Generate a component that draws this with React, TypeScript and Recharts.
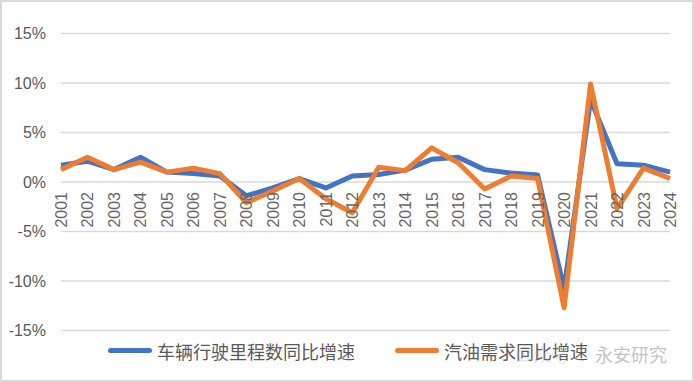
import React from "react";
import {
  LineChart,
  Line,
  YAxis,
  XAxis,
  CartesianGrid,
  Legend,
  LabelList,
} from "recharts";

const years = [
  "2001", "2002", "2003", "2004", "2005", "2006", "2007", "2008",
  "2009", "2010", "2011", "2012", "2013", "2014", "2015", "2016",
  "2017", "2018", "2019", "2020", "2021", "2022", "2023", "2024",
];
// 车辆行驶里程数同比增速 (%)
const vehicleMiles = [
  1.7, 2.1, 1.25, 2.5, 1.0, 0.85, 0.6, -1.4, -0.6, 0.35, -0.6, 0.6,
  0.75, 1.2, 2.3, 2.5, 1.25, 0.9, 0.7, -10.8, 8.3, 1.85, 1.7, 1.0,
];
// 汽油需求同比增速 (%)
const gasolineDemand = [
  1.25, 2.5, 1.25, 2.0, 1.0, 1.4, 0.85, -2.1, -0.9, 0.35, -1.7, -3.1,
  1.5, 1.15, 3.45, 1.95, -0.7, 0.6, 0.35, -12.7, 9.9, -2.7, 1.4, 0.35,
];
const yTicks = [-15, -10, -5, 0, 5, 10, 15];
const seriesNames = ["车辆行驶里程数同比增速", "汽油需求同比增速"];

const data = years.map((year, i) => ({
  year,
  miles: vehicleMiles[i],
  gasoline: gasolineDemand[i],
  base: 0,
}));

const font = '"Liberation Sans", Arial, sans-serif';
const cjkFont = '"Noto Sans CJK SC", sans-serif';

const YearLabel = (props: any) => {
  const { x, y, value } = props;
  const bx = x + 6;
  const by = y + 10;
  return (
    <text
      x={bx}
      y={by}
      transform={`rotate(-90, ${bx}, ${by})`}
      textAnchor="end"
      fill="#666"
      fontSize={16}
      fontFamily={font}
    >
      {value}
    </text>
  );
};

const renderLegend = ({ payload }: any) => {
  const items = (payload || [])
    .filter((p: any) => seriesNames.includes(p.value))
    .sort((a: any, b: any) => seriesNames.indexOf(a.value) - seriesNames.indexOf(b.value));
  const lefts = [108, 395];
  return (
    <div style={{ position: "relative", width: 694, height: 40 }}>
      {items.map((p: any, i: number) => (
        <div
          key={p.value}
          style={{
            position: "absolute",
            left: lefts[i],
            top: 8,
            display: "flex",
            alignItems: "center",
          }}
        >
          <span
            style={{
              display: "inline-block",
              width: 44,
              height: 5,
              borderRadius: 3,
              background: p.color,
              marginRight: 5,
            }}
          />
          <span style={{ fontFamily: cjkFont, fontSize: 18, color: "#595959", lineHeight: "24px" }}>
            {p.value}
          </span>
        </div>
      ))}
    </div>
  );
};

const App: React.FC = () => {
  return (
    <div
      style={{
        position: "absolute",
        left: 0,
        top: 0,
        width: 694,
        height: 382,
        background: "#fff",
        border: "2px solid #d9d9d9",
        boxSizing: "border-box",
      }}
    >
      <div style={{ position: "absolute", left: -2, top: -2 }}>
        <LineChart
          width={694}
          height={382}
          data={data}
          margin={{ top: 33.5, right: 24, bottom: 11.5, left: 11 }}
        >
          <CartesianGrid vertical={false} stroke="#d9d9d9" strokeWidth={1.5} />
          <XAxis dataKey="year" hide />
          <YAxis
            width={50}
            domain={[-15, 15]}
            ticks={yTicks}
            interval={0}
            axisLine={false}
            tickLine={false}
            tickSize={0}
            tickMargin={15}
            tickFormatter={(v) => `${v}%`}
            tick={{ fill: "#595959", fontSize: 16, fontFamily: font }}
          />
          <Legend verticalAlign="bottom" height={40} content={renderLegend} wrapperStyle={{ left: 0, width: 694 }} />
          <Line
            dataKey="base"
            stroke="none"
            dot={false}
            legendType="none"
            isAnimationActive={false}
          >
            <LabelList dataKey="year" content={YearLabel} />
          </Line>
          <Line
            name={seriesNames[0]}
            dataKey="miles"
            stroke="#4472C4"
            strokeWidth={5}
            strokeLinejoin="round"
            dot={false}
            isAnimationActive={false}
          />
          <Line
            name={seriesNames[1]}
            dataKey="gasoline"
            stroke="#ED7D31"
            strokeWidth={5}
            strokeLinejoin="round"
            dot={false}
            isAnimationActive={false}
          />
        </LineChart>
      </div>
      <div
        style={{
          position: "absolute",
          left: 513,
          top: 339,
          fontFamily: cjkFont,
          fontSize: 18,
          color: "rgba(180,180,180,0.35)",
          whiteSpace: "nowrap",
        }}
      >
        公众号
      </div>
      <div
        style={{
          position: "absolute",
          left: 593,
          top: 339,
          fontFamily: cjkFont,
          fontSize: 18,
          color: "#c4c4c4",
          whiteSpace: "nowrap",
        }}
      >
        永安研究
      </div>
    </div>
  );
};

export default App;
